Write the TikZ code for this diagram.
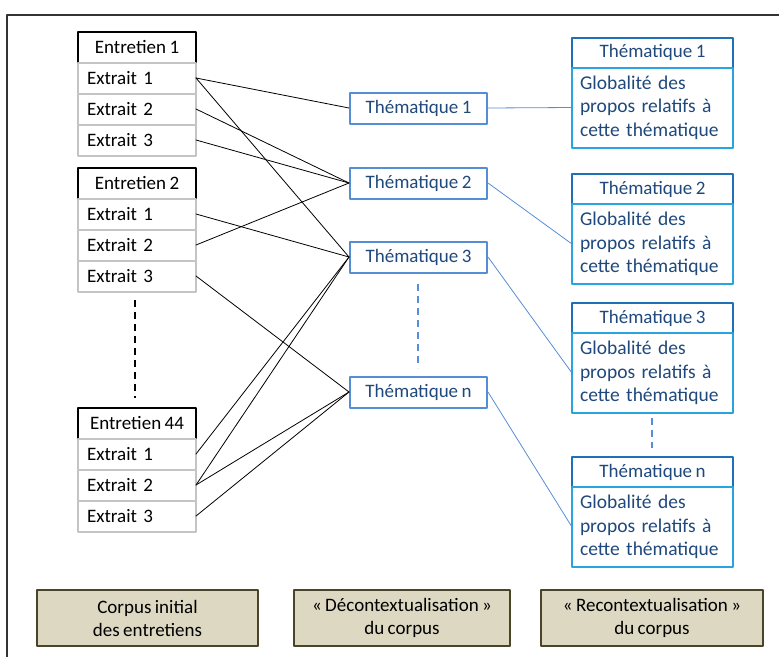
\documentclass[tikz,border=0pt]{standalone}
\usepackage{fontspec}
\setmainfont{Carlito}[WordSpace=0.8]
\usepackage{tikz}
\usetikzlibrary{positioning}
\definecolor{thblue}{HTML}{558ED5}
\definecolor{hdblue}{HTML}{2070B8}
\definecolor{bdblue}{HTML}{2AA4DE}
\definecolor{txblue}{HTML}{1F497D}
\definecolor{corpustan}{HTML}{DDD8C2}
\definecolor{corpusline}{HTML}{4A4528}
\definecolor{extgray}{HTML}{C4C4C4}

\tikzset{
  entretien/.style={draw=black, line width=2pt, fill=white, minimum width=118pt, minimum height=31pt,
    inner sep=0pt, outer sep=0pt, font=\fontsize{19}{22}\selectfont},
  extrait/.style={draw=extgray, line width=2pt, fill=white, minimum width=118pt, minimum height=31pt,
    inner sep=0pt, outer sep=0pt, text width=100pt, align=left, font=\fontsize{19}{22}\selectfont},
  theme/.style={draw=thblue, line width=2pt, fill=white, minimum width=137pt, minimum height=31pt,
    inner sep=0pt, text=txblue, font=\fontsize{19}{22}\selectfont},
  themehead/.style={draw=hdblue, line width=2pt, fill=white, minimum width=161pt, minimum height=30pt,
    inner sep=0pt, outer sep=0pt, text=txblue, font=\fontsize{19}{22}\selectfont},
  themebody/.style={draw=bdblue, line width=2pt, fill=white, minimum width=161pt, minimum height=80pt,
    inner sep=0pt, outer sep=0pt, text width=145pt, align=left, text=txblue, font=\fontsize{19.5}{23.5}\selectfont},
  stage/.style={draw=corpusline, line width=2pt, fill=corpustan, minimum height=56pt,
    inner sep=0pt, align=center, font=\fontsize{19}{23}\selectfont},
  link/.style={line width=0.8pt, black},
  bluelink/.style={line width=0.8pt, thblue}
}

\begin{document}
\begin{tikzpicture}[x=1pt, y=-1pt, line cap=round, line join=round]
  \useasboundingbox (0,0) rectangle (779,657);
  %--- frame
    \draw[line width=1.5pt, black!80, line cap=butt] (7,657) -- (7,15) -- (779,15);
  %--- Entretien 1
    \node[entretien] (e1) at (137,47) {Entretien 1};
    \node[extrait, below=0pt of e1] (x11) {Extrait 1};
    \node[extrait, below=0pt of x11] (x12) {Extrait 2};
    \node[extrait, below=0pt of x12] (x13) {Extrait 3};
  %--- Entretien 2
    \node[entretien] (e2) at (137,183) {Entretien 2};
    \node[extrait, below=0pt of e2] (x21) {Extrait 1};
    \node[extrait, below=0pt of x21] (x22) {Extrait 2};
    \node[extrait, below=0pt of x22] (x23) {Extrait 3};
  %--- Entretien 44
    \node[entretien] (e44) at (137,423) {Entretien 44};
    \node[extrait, below=0pt of e44] (x441) {Extrait 1};
    \node[extrait, below=0pt of x441] (x442) {Extrait 2};
    \node[extrait, below=0pt of x442] (x443) {Extrait 3};
    \draw[line width=2pt, dash pattern=on 7pt off 5pt, line cap=butt] (135,300) -- (135,398);
  %--- Thematiques
    \node[theme] (t1) at (418.5,108) {Thématique 1};
    \node[theme] (t2) at (418.5,183) {Thématique 2};
    \node[theme] (t3) at (418.5,257) {Thématique 3};
    \node[theme] (tn) at (418.5,392) {Thématique n};
    \draw[line width=2pt, thblue, dash pattern=on 7pt off 5pt, line cap=butt] (418,284) -- (418,368);
  %--- Recontextualisation
    \node[themehead] (r1) at (652.5,52.5) {Thématique 1};
    \node[themebody, below=0pt of r1] (b1) {Globalité des\\propos relatifs à\\cette thématique};
    \node[themehead] (r2) at (652.5,189) {Thématique 2};
    \node[themebody, below=0pt of r2] (b2) {Globalité des\\propos relatifs à\\cette thématique};
    \node[themehead] (r3) at (652.5,318) {Thématique 3};
    \node[themebody, below=0pt of r3] (b3) {Globalité des\\propos relatifs à\\cette thématique};
    \node[themehead] (rn) at (652.5,472) {Thématique n};
    \node[themebody, below=0pt of rn] (bn) {Globalité des\\propos relatifs à\\cette thématique};
    \draw[line width=2pt, thblue, dash pattern=on 7pt off 5pt, line cap=butt] (652,418) -- (652,448);
  %--- extraits -> thematiques
    \draw[link] (x11.east) -- (t1.west);
    \draw[link] (x11.east) -- (t3.west);
    \draw[link] (x12.east) -- (t2.west);
    \draw[link] (x13.east) -- (t2.west);
    \draw[link] (x21.east) -- (t3.west);
    \draw[link] (x22.east) -- (t2.west);
    \draw[link] (x23.east) -- (tn.west);
    \draw[link] (x441.east) -- (t3.west);
    \draw[link] (x442.east) -- (t3.west);
    \draw[link] (x442.east) -- (tn.west);
    \draw[link] (x443.east) -- (tn.west);
  %--- thematiques -> globalite
    \draw[bluelink] (t1.east) -- (b1.west);
    \draw[bluelink] (t2.east) -- (b2.west);
    \draw[bluelink] (t3.east) -- (b3.west);
    \draw[bluelink] (tn.east) -- (bn.west);
  %--- stages
    \node[stage, minimum width=221pt] (s1) at (147.5,618) {Corpus initial\\des entretiens};
    \node[stage, minimum width=216pt] (s2) at (402,618) {« Décontextualisation »\\du corpus};
    \node[stage, minimum width=222pt] (s3) at (652,618) {« Recontextualisation »\\du corpus};
\end{tikzpicture}
\end{document}
